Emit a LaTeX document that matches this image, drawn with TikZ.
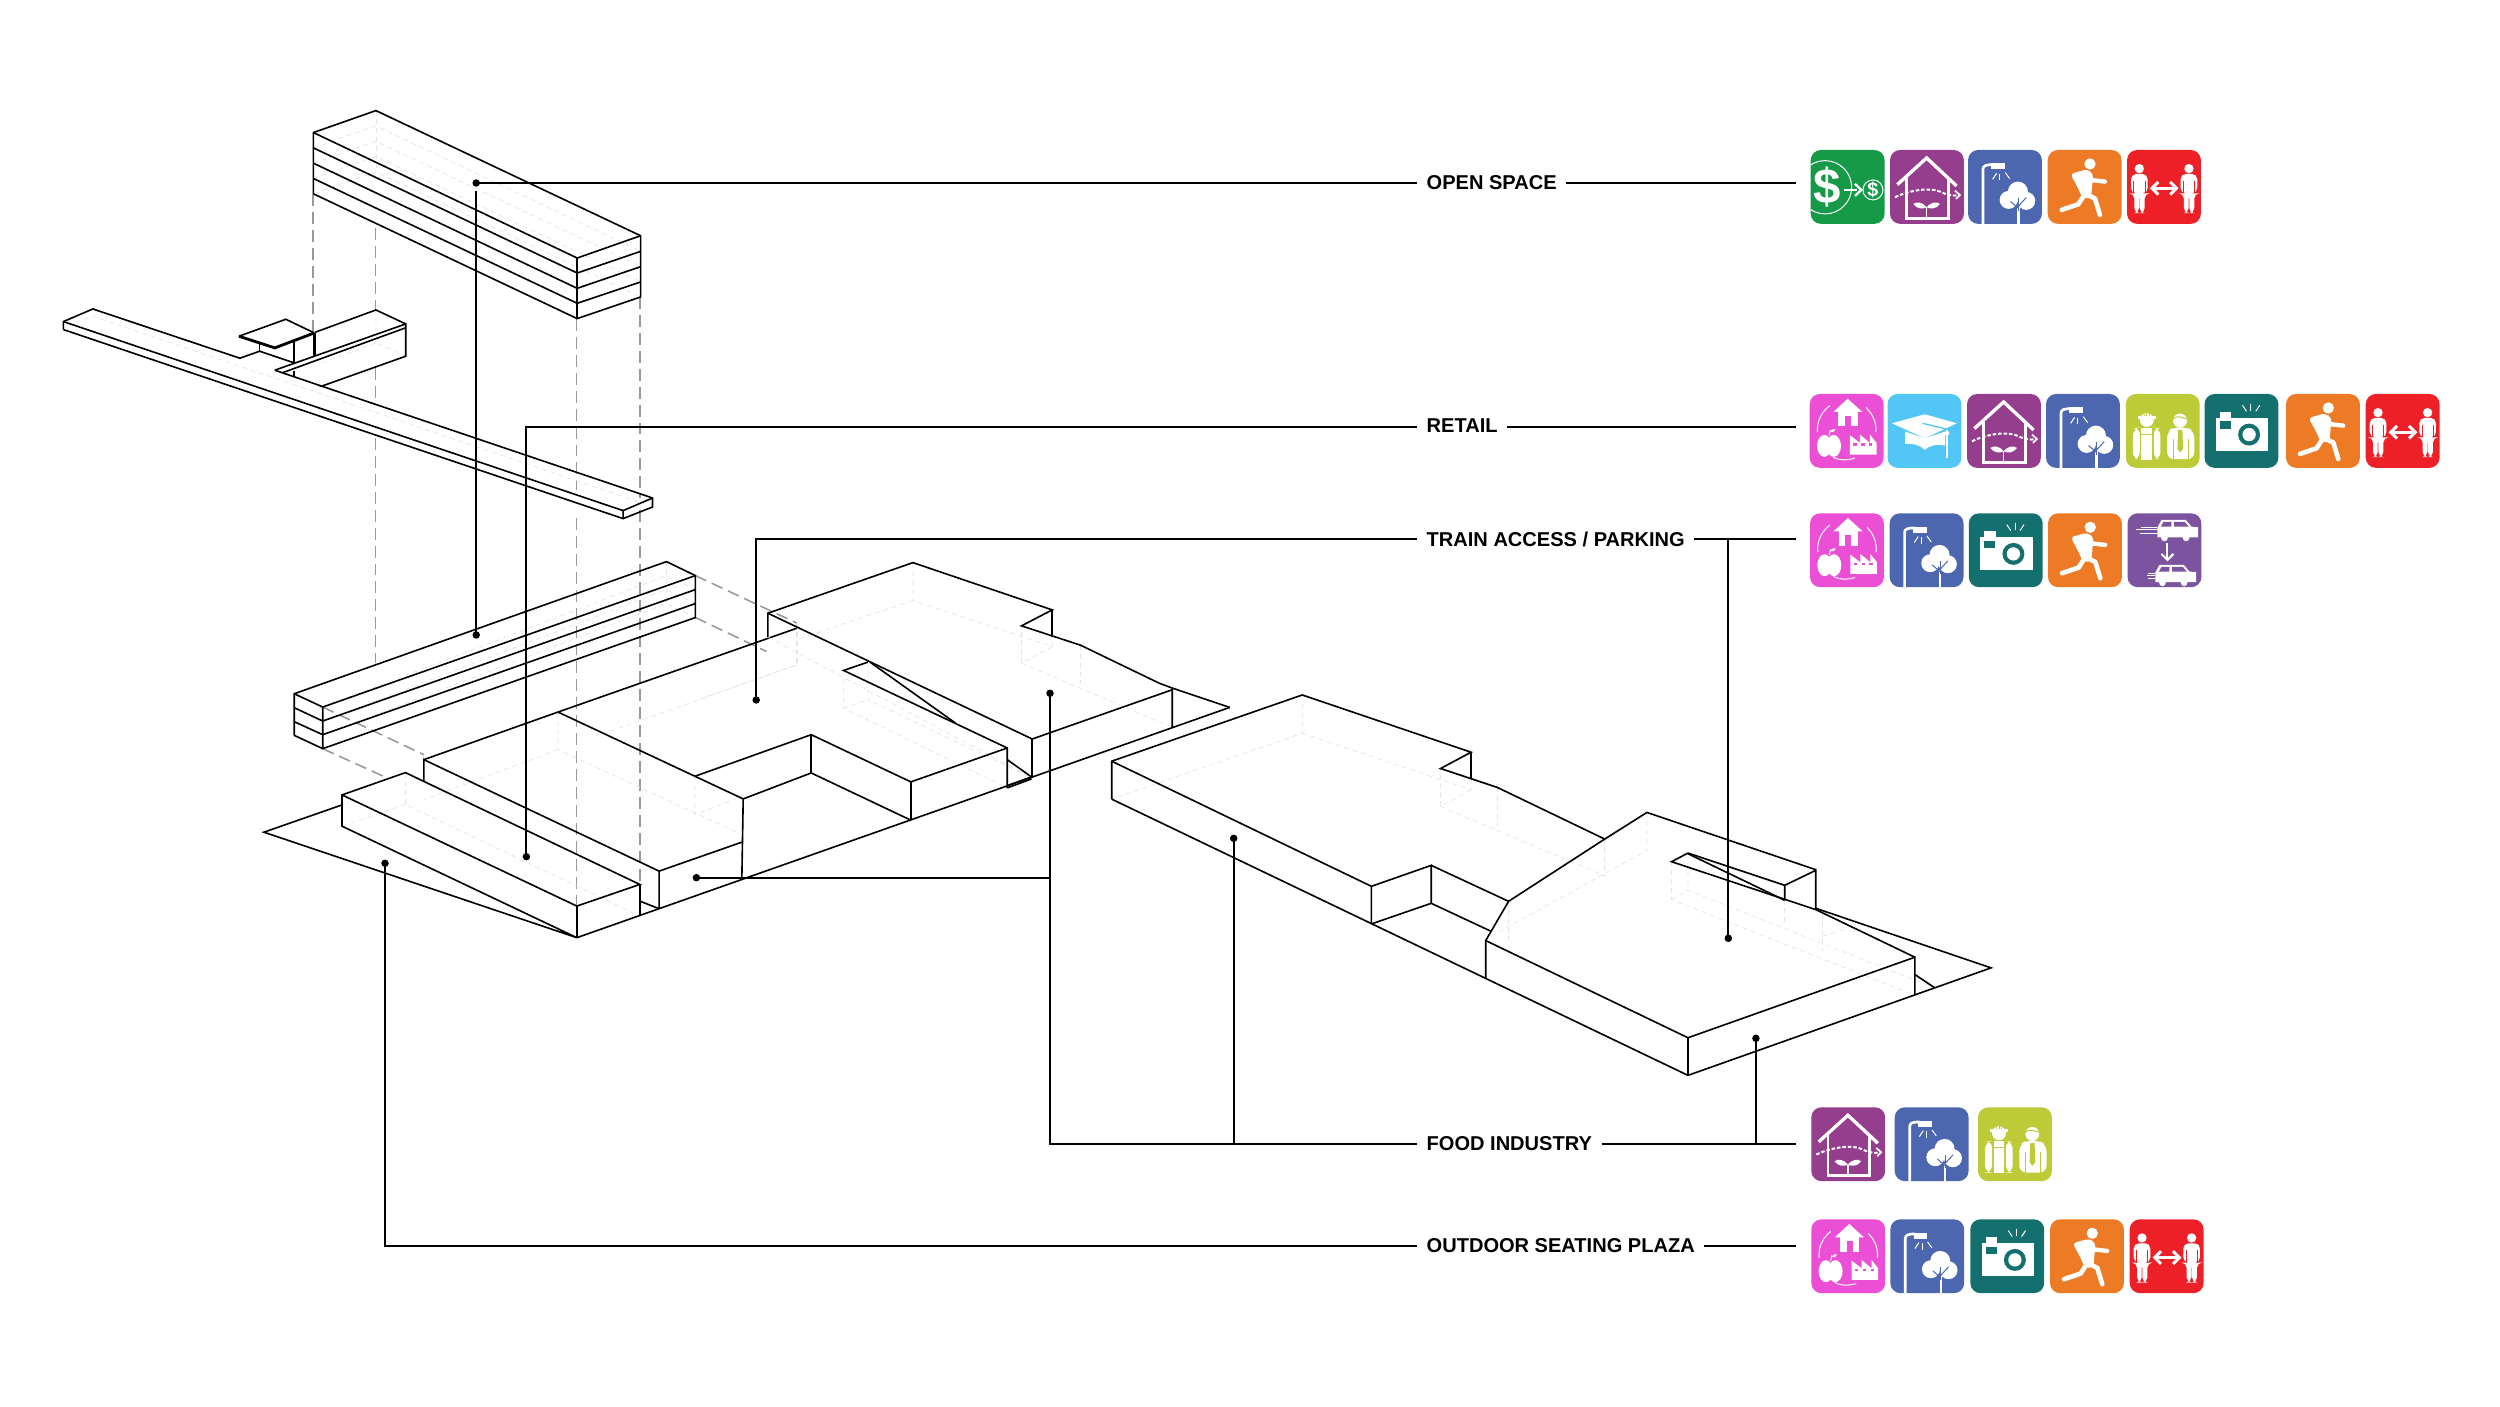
\documentclass[tikz,border=0pt]{standalone}
\usepackage{fontspec}
\setmainfont{Liberation Sans}
\definecolor{icgreen}{HTML}{169A48}
\definecolor{icpurple}{HTML}{963E8E}
\definecolor{icblue}{HTML}{4C66AF}
\definecolor{icorange}{HTML}{ED7A25}
\definecolor{icred}{HTML}{EE2027}
\definecolor{icmag}{HTML}{EB4FD6}
\definecolor{iccyan}{HTML}{52C6F5}
\definecolor{icolive}{HTML}{BCCB37}
\definecolor{icteal}{HTML}{14706F}
\definecolor{icviolet}{HTML}{7B539E}
\def\iu{0.09449pt}
\tikzset{
  edge/.style={line width=0.46pt,black,line join=miter},
  hid/.style={line width=0.2pt,black!11,dash pattern=on 1.4pt off 1.1pt},
  proj/.style={line width=0.45pt,black!40,dash pattern=on 3.4pt off 1.7pt},
  leader/.style={line width=0.62pt,black},
  dotnode/.style={circle,fill=black,inner sep=0pt,minimum size=0.075cm},
  lbl/.style={font=\fontsize{5.7pt}{7pt}\selectfont\bfseries,anchor=west,inner xsep=0.09cm,inner ysep=1pt,text=black},
  wl/.style={draw=white,line width=#1*\iu,line cap=round,line join=round},
  wb/.style={draw=white,line width=#1*\iu,line cap=butt,line join=miter},
}
\newcommand{\icbase}[1]{\fill[#1,rounded corners=2.9pt] (0,0) rectangle (222,222);}
\newcommand{\icstart}[2]{\begin{scope}[shift={(#1,#2)},x=0.0033333cm,y=-0.0033333cm]}
\newcommand{\icDollar}[2]{\icstart{#1}{#2}\icbase{icgreen}
  \begin{scope}\clip[rounded corners=2.9pt] (0,0) rectangle (222,222);
  \draw[wb=3] (43,112) circle (80);\end{scope}
  \node[text=white,inner sep=0pt,font=\fontsize{14pt}{14pt}\selectfont\bfseries] at (48,111) {\$};
  \draw[wb=7] (100,120)--(140,120);
  \draw[wb=7] (133,102)--(152,120)--(133,138);
  \draw[wb=3] (187,120) circle (30);
  \node[text=white,inner sep=0pt,font=\fontsize{5.6pt}{6pt}\selectfont\bfseries] at (187,120) {\$};
  \end{scope}}
\newcommand{\icHouse}[2]{\icstart{#1}{#2}\icbase{icpurple}
  \draw[wb=10] (22,104)--(110,24)--(200,108);
  \draw[wb=8] (50,84)--(50,205)--(175,205)--(175,84);
  \draw[white,line width=6*\iu,dash pattern=on 1pt off 0.55pt] (15,142) .. controls (60,120) and (120,112) .. (150,125) .. controls (170,135) and (190,140) .. (208,135);
  \draw[wb=5] (195,122)--(210,135)--(198,147);
  \fill[white] (110,172) .. controls (95,155) and (80,155) .. (70,162) .. controls (80,178) and (100,178) .. cycle;
  \fill[white] (110,172) .. controls (125,155) and (140,155) .. (150,162) .. controls (140,178) and (120,178) .. cycle;
  \draw[wb=4] (110,172)--(110,205);
  \end{scope}}
\newcommand{\icLamp}[2]{\icstart{#1}{#2}\icbase{icblue}
  \draw[wb=8] (45,222)--(45,58) .. controls (45,48) and (52,44) .. (75,44);
  \fill[white] (70,40) rectangle (111,58);
  \draw[wb=3] (86,70)--(74,88);
  \draw[wb=3] (96,72)--(96,91);
  \draw[wb=3] (112,68)--(125,86);
  \fill[white] (150,125) circle (30);
  \fill[white] (122,150) circle (27);
  \fill[white] (175,153) circle (27);
  \draw[wb=7] (152,170)--(152,222);
  \draw[icblue,line width=3*\iu] (152,182)--(152,143);
  \draw[icblue,line width=3*\iu] (152,176)--(128,155);
  \draw[icblue,line width=3*\iu] (152,168)--(175,143);
  \end{scope}}
\newcommand{\icRun}[2]{\icstart{#1}{#2}\icbase{icorange}
  \fill[white] (127,42) circle (17);
  \fill[white,rounded corners=1pt] (68,72)--(118,58)--(137,72)--(130,145)--(104,145)--(93,118)--cycle;
  \draw[wl=13] (127,90)--(172,95);
  \draw[wl=14] (108,138)--(92,163)--(42,180);
  \draw[wl=14] (114,132)--(142,146)--(157,195);
  \end{scope}}
\newcommand{\pfig}{%
  \fill[white] (37,56) circle (14);
  \fill[white,rounded corners=1.5pt] (12,130)--(12,72)--(62,72)--(62,130)--(53,130)--(53,190)--(38,190)--(38,130)--(36,130)--(36,190)--(22,190)--(22,130)--cycle;
  \draw[icred,line width=1.5*\iu] (20,92)--(20,130);
  \draw[icred,line width=1.5*\iu] (54,92)--(54,130);}
\newcommand{\icPeople}[2]{\icstart{#1}{#2}\icbase{icred}
  \pfig
  \begin{scope}[shift={(149,0)}]\pfig\end{scope}
  \draw[wb=8] (78,115)--(146,115);
  \draw[wb=9] (94,96)--(75,115)--(94,134);
  \draw[wb=9] (130,96)--(149,115)--(130,134);
  \end{scope}}
\newcommand{\icHub}[2]{\icstart{#1}{#2}\icbase{icmag}
  \draw[wb=3] (111,107) circle (88);
  \fill[icmag] (60,10) rectangle (170,60);
  \fill[white] (71,54)--(114,14)--(158,54)--cycle;
  \fill[white] (86,50) rectangle (144,97);
  \fill[icmag] (106,65) rectangle (124,97);
  \fill[icmag] (14,115) rectangle (210,196);
  \fill[white] (44,156) ellipse (22 and 33);
  \fill[white] (72,156) ellipse (22 and 33);
  \draw[wb=3] (58,125)--(62,108);
  \fill[white] (62,114) .. controls (66,104) and (74,104) .. (78,106) .. controls (74,114) and (68,116) .. cycle;
  \fill[white] (121,124)--(151,147)--(151,122)--(181,147)--(181,122)--(201,147)--(201,182)--(121,182)--cycle;
  \fill[icmag] (131,148) rectangle (141,156);
  \fill[icmag] (155,148) rectangle (165,156);
  \fill[icmag] (178,148) rectangle (188,156);
  \draw[wb=3] (70,190) .. controls (90,200) and (110,200) .. (135,193);
  \end{scope}}
\newcommand{\icCap}[2]{\icstart{#1}{#2}\icbase{iccyan}
  \fill[white] (53,113)--(112,133)--(173,113)--(173,155) .. controls (145,150) and (125,155) .. (112,168) .. controls (100,155) and (80,148) .. (53,150)--cycle;
  \fill[white] (13,88)--(112,61)--(208,88)--(112,133)--cycle;
  \draw[iccyan,line width=4*\iu] (105,88)--(179,106);
  \draw[wb=5] (179,108)--(179,193);
  \fill[white] (179,118) circle (7);
  \end{scope}}
\newcommand{\icWork}[2]{\icstart{#1}{#2}\icbase{icolive}
  \fill[white] (63,78) circle (21);
  \fill[white] (42,68) arc (180:0:21) -- cycle;
  \fill[white] (36,66) rectangle (90,74);
  \draw[icolive,line width=2*\iu] (63,48)--(63,66);
  \draw[icolive,line width=2*\iu] (53,52)--(56,66);
  \draw[icolive,line width=2*\iu] (73,52)--(70,66);
  \fill[white,rounded corners=2pt] (21,196)--(21,105)--(42,100)--(42,196)--cycle;
  \fill[white,rounded corners=2pt] (84,100)--(104,105)--(104,196)--(84,196)--cycle;
  \fill[white] (47,102) rectangle (79,120);
  \fill[white] (47,122) rectangle (79,197);
  \fill[white] (163,80) circle (21);
  \draw[icolive,line width=3*\iu] (142,75) .. controls (155,62) and (170,72) .. (184,75);
  \fill[white,rounded corners=2pt] (124,196)--(124,112)--(145,100)--(182,100)--(206,112)--(206,196)--cycle;
  \draw[icolive,line width=2*\iu] (142,135)--(142,196);
  \draw[icolive,line width=2*\iu] (188,135)--(188,196);
  \fill[icolive] (157,108)--(170,108)--(172,165)--(163,176)--(155,165)--cycle;
  \end{scope}}
\newcommand{\icCam}[2]{\icstart{#1}{#2}\icbase{icteal}
  \fill[white] (34,72) rectangle (192,170);
  \fill[white] (47,54) rectangle (81,72);
  \fill[icteal] (47,82) rectangle (79,104);
  \fill[icteal] (134,122) circle (33);
  \fill[white] (134,122) circle (20);
  \draw[wb=3] (114,34)--(126,52);
  \draw[wb=3] (139,29)--(139,50);
  \draw[wb=3] (166,34)--(154,52);
  \end{scope}}
\newcommand{\carfig}{%
  \fill[white] (102,18)--(175,18)--(192,38)--(212,40)--(212,70)--(90,70)--(90,40)--cycle;
  \fill[icviolet] (108,24)--(132,24)--(132,38)--(100,38)--cycle;
  \fill[icviolet] (140,24)--(172,24)--(184,38)--(140,38)--cycle;
  \fill[white] (111,72) circle (10);
  \fill[white] (176,72) circle (10);}
\newcommand{\icCars}[2]{\icstart{#1}{#2}\icbase{icviolet}
  \begin{scope}[shift={(0,2)}]\carfig\end{scope}
  \draw[wb=3] (24,50)--(88,50);
  \draw[wb=3] (40,43)--(88,43);
  \draw[wb=3] (38,62)--(88,62);
  \draw[wb=6] (120,88)--(120,138);
  \draw[wb=6] (102,122)--(120,140)--(138,122);
  \begin{scope}[shift={(-6,137)}]\carfig\end{scope}
  \draw[wb=3] (58,188)--(84,188);
  \draw[wb=3] (62,180)--(84,180);
  \draw[wb=3] (62,196)--(84,196);
  \end{scope}}
\begin{document}
\begin{tikzpicture}[x=0.01cm,y=-0.01cm]
\useasboundingbox (0,0) rectangle (2500,1407);
% projection dashes
\draw[proj] (313,194)--(313,332);
\draw[proj] (375.6,228)--(375.6,310);
\draw[proj] (375.6,368)--(375.6,400);
\draw[proj] (375.6,438)--(375.6,663);
\draw[proj] (576.7,319)--(576.7,490);
\draw[proj] (576.7,518)--(576.7,907);
\draw[proj] (640,297)--(640,498);
\draw[proj] (640,510)--(640,883);
% top block and walkway
\begin{scope}[shift={(0,80)},x=0.004592cm,y=-0.003333cm]
  \foreach \k in {0,1,2,3,4}{
    \draw[hid] (682,{158+46*\k})--(818,{92+46*\k})--(1394,{468+46*\k});
  }
  \draw[hid] (818,92)--(818,276);
  \draw[hid] (165,728)--(202,710)--(1395,1270);
  \draw[hid] (818,691)--(818,790)--(883,830);
  \draw[hid] (818,790)--(700,850);
  \draw[edge] (682,342)--(682,158)--(818,92)--(1394,468)--(1394,652)--(1256,717)--(682,342);
  \draw[edge] (682,158)--(1256,535)--(1394,468);
  \draw[edge] (1256,535)--(1256,717);
  \draw[edge] (682,204)--(1256,580)--(1394,515);
  \draw[edge] (682,250)--(1256,626)--(1394,561);
  \draw[edge] (682,296)--(1256,671)--(1394,607);
  % walkway
  \draw[edge] (138,750)--(138,726)--(202,688)--(522,836)--(565,815)--(640,850);
  \draw[edge] (598,872)--(883,733)--(883,830)--(700,920)--(1420,1256)--(1420,1283)--(1356,1318)--(138,750);
  \draw[edge] (598,872)--(700,920);
  \draw[edge] (138,726)--(1356,1294)--(1356,1318);
  \draw[edge] (1356,1294)--(1420,1256);
  \draw[edge] (614,880)--(882,745);
  % kiosk
  \draw[edge] (520,770)--(622,719)--(684,760);
  \draw[line width=0.8pt] (520,770)--(598,805)--(684,760);
  \draw[edge] (565,790)--(565,815);
  \draw[edge] (640,782)--(640,850);
  \draw[edge] (640,873)--(640,893);
  \draw[edge] (682,758)--(682,830);
  \draw[edge] (686,760)--(686,828);
  \draw[edge] (686,758)--(818,691)--(883,733);
\end{scope}
% main building left part
\begin{scope}[shift={(240,540)},x=0.004592cm,y=-0.003333cm]
  \coordinate (g0) at (733,1195);
  \draw[proj] (991,107)--(1212,250);
  \draw[proj] (991,233)--(1146,335);
  \draw[proj] (180,502)--(400,645);
  \draw[proj] (180,627)--(320,715);
  \foreach \k in {1,2,3}{\draw[hid] (180,{460+42*\k})--(928,{65+42*\k})--(991,{107+42*\k});}
  \draw[hid] (928,65)--(928,191);
  \draw[hid] (360,699)--(360,795)--(870,1130);
  \draw[hid] (360,795)--(222,860);
  \draw[hid] (692,517)--(692,630)--(1092,885);
  \draw[hid] (692,630)--(400,780);
  \draw[hid] (990,710)--(990,825)--(1092,770);
  \draw[hid] (400,645)--(400,660);
  \draw[hid] (1212,250)--(1212,375);
  \draw[hid] (1212,375)--(775,590);
  % bar
  \draw[edge] (118,587)--(118,462)--(928,65)--(991,107)--(991,233)--(180,627)--(118,587);
  \draw[edge] (118,462)--(180,502)--(180,627);
  \draw[edge] (180,502)--(991,107);
  \draw[edge] (180,544)--(991,149);
  \draw[edge] (180,585)--(991,191);
  \draw[edge] (118,504)--(180,544);
  \draw[edge] (118,546)--(180,585);
  % plaza
  \draw[edge] (220,797)--(52,878)--(733,1195)--(222,860)--(222,766)--(360,699)--(870,1035)--(733,1100)--(222,766);
  \draw[edge] (733,1100)--(733,1195);
  \draw[edge] (870,1035)--(870,1130);
  \draw[edge] (870,1085)--(912,1108);
  % retail volume
  \draw[edge] (400,725)--(400,660)--(912,995)--(912,1108);
  \draw[edge] (400,660)--(692,517)--(1095,778)--(1092,1020);
  \draw[edge] (912,995)--(1092,908);
  \draw[edge] (692,517)--(1212,265);
  \draw[edge] (990,710)--(1243,585)--(1460,727)--(1460,842);
  \draw[edge] (1243,585)--(1243,700);
  \draw[edge] (1095,778)--(1243,700)--(1460,842);
\end{scope}
% main building right part
\begin{scope}[shift={(700,540)},x=0.00357cm,y=-0.003333cm]
  \coordinate (g1) at (1483,503);
  \draw[hid] (596,68)--(596,182)--(986,320)--(986,210);
  \draw[hid] (596,182)--(270,300);
  \draw[hid] (986,320)--(900,370)--(900,258);
  \draw[hid] (900,370)--(1322,563);
  \draw[hid] (1065,316)--(1065,430);
  \draw[hid] (270,250)--(270,375)--(0,478);
  \draw[hid] (402,392)--(402,505)--(860,745);
  \draw[hid] (470,367)--(470,480)--(928,714);
  \draw[hid] (402,505)--(470,480);
  \draw[hid] (190,292)--(928,714);
  \draw[edge] (190,292)--(190,220)--(596,68)--(986,210)--(900,258)--(1065,316)--(1285,430)--(1322,445)--(1483,503);
  \draw[edge] (190,220)--(930,598)--(1322,450)--(1322,563);
  \draw[edge] (986,210)--(986,290);
  \draw[edge] (930,598)--(930,714);
  \draw[edge] (470,367)--(402,392)--(860,625)--(860,745);
  \draw[edge] (476,367)--(715,550);
  \draw[edge] (590,727)--(860,625);
  \draw[edge] (860,660)--(928,712);
  \draw[edge] (860,738)--(928,712);
  \draw[edge] (860,745)--(928,718);
\end{scope}
\draw[edge] (g0)--(g1);
% second building
\begin{scope}[shift={(1090,680)},x=0.005867cm,y=-0.003333cm]
  \draw[hid] (362,45)--(362,160)--(37,358);
  \draw[hid] (362,160)--(650,330)--(650,217);
  \draw[hid] (650,330)--(598,380)--(598,266);
  \draw[hid] (598,380)--(880,590);
  \draw[hid] (695,323)--(695,440);
  \draw[hid] (878,478)--(878,590);
  \draw[hid] (950,398)--(950,512)--(684,770);
  \draw[hid] (714,665)--(714,780);
  \draw[hid] (992,546)--(992,660)--(1407,947);
  \draw[hid] (1020,522)--(1020,632)--(1441,925);
  \draw[hid] (992,660)--(1020,632);
  \draw[hid] (1185,660)--(1185,735);
  \draw[hid] (1250,700)--(1250,815);
  \draw[hid] (1250,770)--(1285,750);
  \draw[edge] (37,358)--(37,244)--(362,45)--(650,217)--(598,266)--(695,323)--(878,478);
  \draw[edge] (650,217)--(650,297);
  \draw[edge] (37,244)--(480,620)--(480,733);
  \draw[edge] (37,358)--(1020,1188)--(1537,865)--(1238,686);
  \draw[edge] (480,620)--(582,557)--(582,671)--(480,733);
  \draw[edge] (582,557)--(714,665);
  \draw[edge] (582,671)--(684,755);
  \draw[edge] (878,478)--(950,398)--(1238,570)--(1238,688);
  \draw[edge] (878,478)--(714,665)--(675,783)--(675,897);
  \draw[edge] (675,783)--(1020,1075)--(1020,1188);
  \draw[edge] (1020,1075)--(1407,833)--(1407,947);
  \draw[edge] (1407,833)--(1250,700)--(1238,690);
  \draw[edge] (1238,572)--(1185,617)--(1185,660);
  \draw[edge] (1020,520)--(1185,617);
  \draw[edge] (1020,520)--(992,546)--(1238,690);
  \draw[edge] (1020,522)--(1185,662);
  \draw[edge] (1407,885)--(1441,925);
\end{scope}
% dots
\node[dotnode] (d1) at (476.2,183) {};
\node[dotnode] (d2) at (476.2,635) {};
\node[dotnode] (d3) at (526.4,856.7) {};
\node[dotnode] (d4) at (756.2,700) {};
\node[dotnode] (d5) at (1728.3,938.3) {};
\node[dotnode] (d6) at (696.4,877.7) {};
\node[dotnode] (d7) at (1050,693.3) {};
\node[dotnode] (d8) at (1233.7,838.3) {};
\node[dotnode] (d9) at (1755.9,1038.3) {};
\node[dotnode] (d10) at (385,863.3) {};
% labels
\node[lbl] (L1) at (1417,183) {OPEN SPACE};
\node[lbl] (L2) at (1417,426.7) {\raisebox{0.03cm}{RETAIL}};
\node[lbl] (L3) at (1417,539) {TRAIN ACCESS / PARKING};
\node[lbl] (L4) at (1417,1143.6) {FOOD INDUSTRY};
\node[lbl] (L5) at (1417,1245.7) {OUTDOOR SEATING PLAZA};
\coordinate (E1) at (1796,183);
\coordinate (E2) at (1796,426.7);
\coordinate (E3) at (1796,539);
\coordinate (E4) at (1796,1143.6);
\coordinate (E5) at (1796,1245.7);
% leaders
\draw[leader] (L1.west)--(d1.center);
\draw[leader,shorten <=0.04cm] (d1)--(d2.center);
\draw[leader] (L1.east)--(E1);
\draw[leader] (L2.west)-|(d3.center);
\draw[leader] (L2.east)--(E2);
\draw[leader] (L3.west)-|(d4.center);
\draw[leader] (L3.east)--(E3);
\draw[leader] (E3)-|(d5.center);
\draw[leader] (L4.west)-|(d7.center);
\draw[leader] (d6.center)-|(d7.center);
\draw[leader] (L4.west)-|(d8.center);
\draw[leader] (L4.east)--(E4);
\draw[leader] (E4)-|(d9.center);
\draw[leader] (L5.west)-|(d10.center);
\draw[leader] (L5.east)--(E5);
% icons row 1
\icDollar{1810.7}{150}\icHouse{1890}{150}\icLamp{1968}{150}\icRun{2047.7}{150}\icPeople{2127}{150}
% row 2
\icHub{1809.7}{394}\icCap{1887.5}{394}\icHouse{1967}{394}\icLamp{2046}{394}\icWork{2125.8}{394}\icCam{2204.5}{394}\icRun{2286}{394}\icPeople{2365.7}{394}
% row 3
\icHub{1810}{513.3}\icLamp{1889.6}{513.3}\icCam{1968.8}{513.3}\icRun{2048}{513.3}\icCars{2127.5}{513.3}
% row 4
\icHouse{1811.3}{1107.3}\icLamp{1894.7}{1107.3}\icWork{1978}{1107.3}
% row 5
\icHub{1811.3}{1219.3}\icLamp{1890.3}{1219.3}\icCam{1970.3}{1219.3}\icRun{2050}{1219.3}\icPeople{2129.7}{1219.3}
\end{tikzpicture}
\end{document}
